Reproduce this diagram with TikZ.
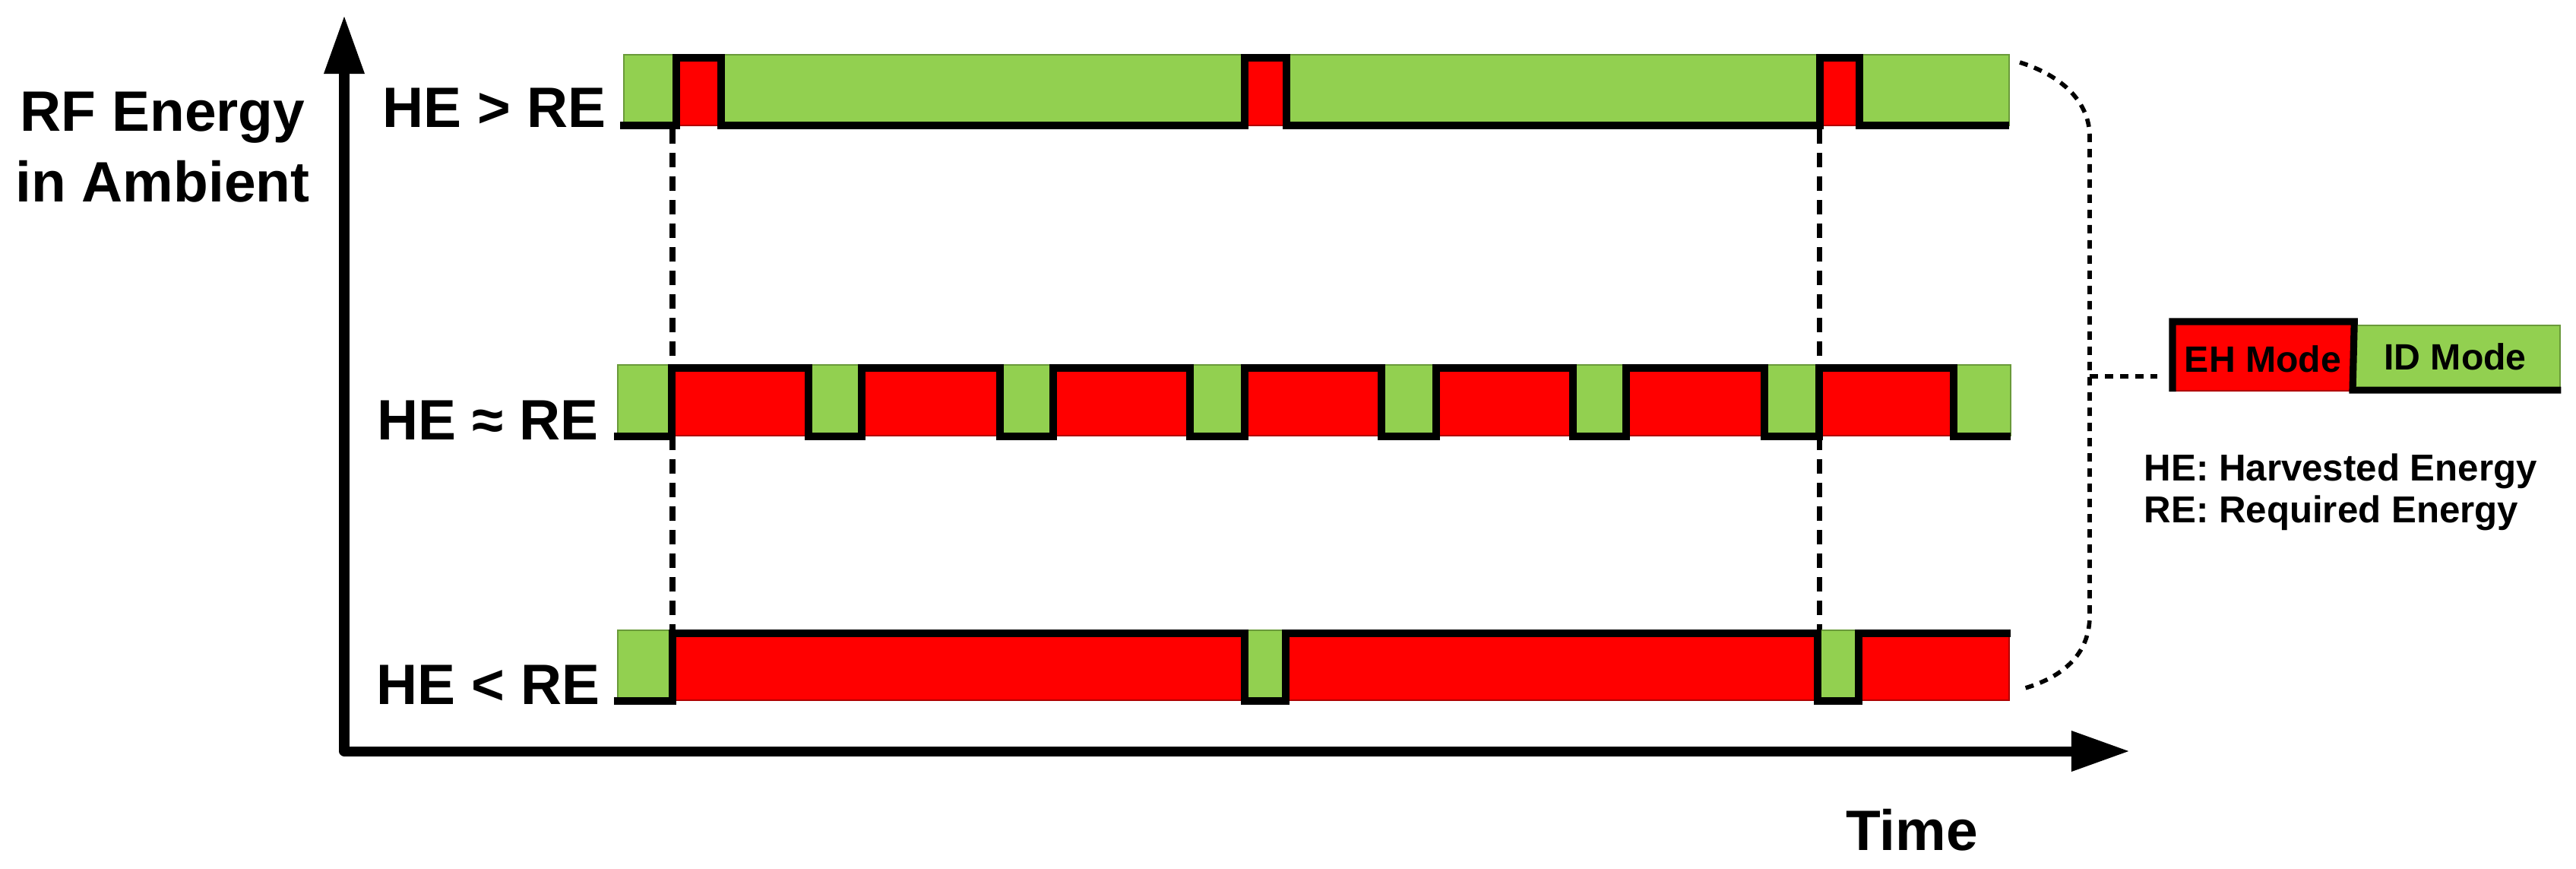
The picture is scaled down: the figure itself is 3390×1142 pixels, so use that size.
\documentclass[tikz,border=0pt]{standalone}
\usepackage{fontspec}
\setmainfont{Liberation Sans}
\usetikzlibrary{arrows.meta}
\definecolor{eg}{HTML}{92D050}
\definecolor{egd}{HTML}{6A9A3A}
\definecolor{er}{HTML}{FF0000}
\definecolor{erd}{HTML}{B00000}
\tikzset{
  gbox/.style={fill=eg, draw=egd, line width=0.6pt},
  rbox/.style={fill=er, draw=erd, line width=0.6pt},
  wave/.style={line width=2.6pt, line join=miter},
  guide/.style={line width=2pt, dash pattern=on 0.19cm off 0.12cm},
  bracket/.style={line width=1.6pt, dash pattern=on 0.11cm off 0.09cm},
  biglbl/.style={font=\fontsize{21.3}{25}\selectfont\bfseries, inner sep=0pt},
  leglbl/.style={font=\fontsize{14}{16}\selectfont\bfseries, inner sep=0pt},
  modebox/.style={font=\fontsize{13.7}{15}\selectfont\bfseries, inner sep=0pt, minimum height=0.9cm},
  axis/.style={line width=3.7pt, line join=round, {Triangle[length=0.77cm,width=0.5cm]}-{Triangle[length=0.77cm,width=0.5cm]}}
}
\begin{document}
\begin{tikzpicture}[x=0.01cm, y=-0.01cm]
\fill[white] (0,0) rectangle (3390,1142);
\useasboundingbox (0,0) rectangle (3390,1142);

% vertical guide lines (behind bars)
\coordinate (g1t) at (885,170);
\coordinate (g1b) at (885,828);
\coordinate (g2t) at (2394,170);
\coordinate (g2b) at (2394,828);
\draw[guide] (g1t) -- (g1b);
\draw[guide] (g2t) -- (g2b);

% axes
\coordinate (ytip) at (453,20);
\coordinate (orig) at (453,988);
\coordinate (xtip) at (2803,988);
\draw[axis] (ytip) -- (orig) -- (xtip);

% row 1: HE > RE  (top 72, bottom 165)
\foreach \a/\b/\s in {821/890/gbox, 890/949/rbox, 949/1638/gbox, 1638/1693/rbox, 1693/2395/gbox, 2395/2447/rbox, 2447/2644/gbox}
  \path[\s] (\a,72) rectangle (\b,165);
\draw[wave] (816,165) -- (890,165) -- (890,76) -- (949,76) -- (949,165) -- (1638,165) -- (1638,76) -- (1693,76) -- (1693,165) -- (2395,165) -- (2395,76) -- (2447,76) -- (2447,165) -- (2644,165);

% row 2: HE ~ RE  (top 480, bottom 573)
\foreach \a/\b/\s in {813/884/gbox, 884/1064/rbox, 1064/1134/gbox, 1134/1316/rbox, 1316/1386/gbox, 1386/1566/rbox, 1566/1638/gbox, 1638/1818/rbox, 1818/1890/gbox, 1890/2070/rbox, 2070/2140/gbox, 2140/2322/rbox, 2322/2394/gbox, 2394/2571/rbox, 2571/2646/gbox}
  \path[\s] (\a,480) rectangle (\b,573);
\draw[wave] (808,574) -- (884,574) -- (884,484) -- (1064,484) -- (1064,574) -- (1134,574) -- (1134,484) -- (1316,484) -- (1316,574) -- (1386,574) -- (1386,484) -- (1566,484) -- (1566,574) -- (1638,574) -- (1638,484) -- (1818,484) -- (1818,574) -- (1890,574) -- (1890,484) -- (2070,484) -- (2070,574) -- (2140,574) -- (2140,484) -- (2322,484) -- (2322,574) -- (2394,574) -- (2394,484) -- (2571,484) -- (2571,574) -- (2646,574);

% row 3: HE < RE  (top 829, bottom 921)
\foreach \a/\b/\s in {813/885/gbox, 885/1638/rbox, 1638/1692/gbox, 1692/2392/rbox, 2392/2446/gbox, 2446/2644/rbox}
  \path[\s] (\a,829) rectangle (\b,921);
\draw[wave] (808,922) -- (885,922) -- (885,833) -- (1638,833) -- (1638,922) -- (1692,922) -- (1692,833) -- (2392,833) -- (2392,922) -- (2446,922) -- (2446,833) -- (2646,833);

% labels
\node[biglbl, anchor=base] (ylab1) at (214,172) {RF Energy};
\node[biglbl, anchor=base] (ylab2) at (214,265) {in Ambient};
\node[biglbl, anchor=base east] (r1) at (798,167) {HE > RE};
\node[biglbl, anchor=base east] (r2) at (788,578) {HE ≈ RE};
\node[biglbl, anchor=base east] (r3) at (790,926) {HE < RE};
\node[biglbl, anchor=base] (time) at (2516,1118) {Time};

% legend boxes
\node[modebox, rbox, minimum width=2.37cm, anchor=north west] (eh) at (2859,423) {};
\node[modebox, gbox, minimum width=2.72cm, minimum height=0.86cm, anchor=north west] (id) at (3096,427) {};
\node[modebox, anchor=base] (ehtxt) at (2978,489) {EH Mode};
\node[modebox, anchor=base] (idtxt) at (3231,486) {ID Mode};
\draw[wave] (eh.south west) -- (eh.north west) -- (eh.north east) -- ([yshift=0.02cm]id.south west) -- ([yshift=0.02cm]id.south east);

\node[leglbl, anchor=base west] (he) at (2821,632) {HE: Harvested Energy};
\node[leglbl, anchor=base west] (re) at (2821,687) {RE: Required Energy};

% right dashed bracket
\coordinate (bs) at (2658,82);
\coordinate (bm) at (2750,495);
\coordinate (be) at (2658,907);
\draw[bracket] (bs) .. controls (2715,100) and (2750,135) .. (2750,180) -- (bm) -- (2750,810) .. controls (2750,860) and (2715,892) .. (be);
\draw[bracket] (bm) -- ([xshift=-0.2cm]eh.west |- bm);
\end{tikzpicture}
\end{document}
